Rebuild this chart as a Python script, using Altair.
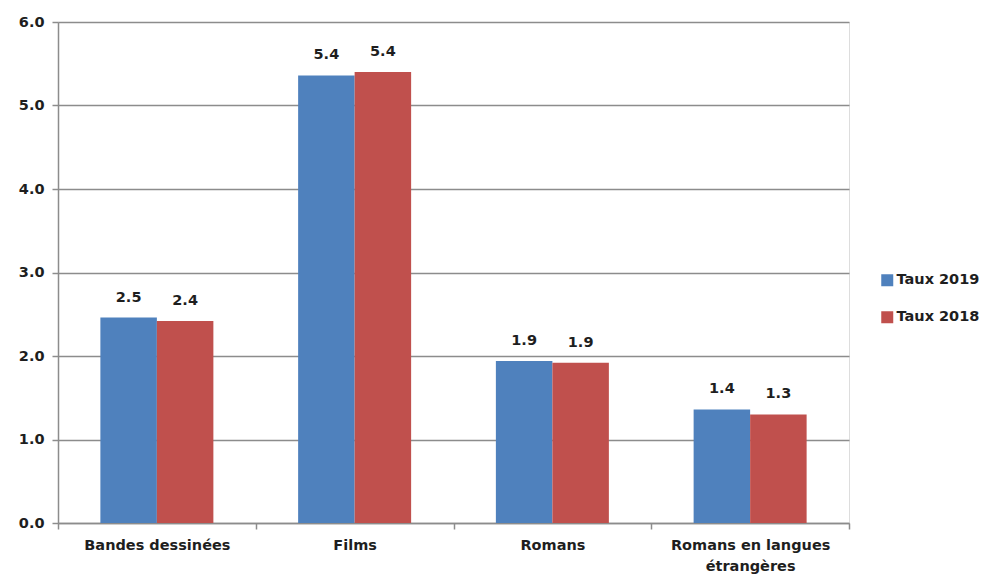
import altair as alt
import pandas as pd

categories = ["Bandes dessinées", "Films", "Romans", "Romans en langues étrangères"]
series = ["Taux 2019", "Taux 2018"]
taux_2019 = [2.46, 5.36, 1.94, 1.36]
taux_2018 = [2.42, 5.40, 1.92, 1.30]
y_ticks = [0, 1, 2, 3, 4, 5, 6]

rows = []
for c, a, b in zip(categories, taux_2019, taux_2018):
    rows.append({"cat": c, "serie": series[0], "val": a})
    rows.append({"cat": c, "serie": series[1], "val": b})
df = pd.DataFrame(rows)

FONT = "DejaVu Sans"
FS = 14.5
TXT = "#1e1e1e"
GRID = "#8c8c8c"

x_enc = alt.X(
    "cat:N", sort=categories, title=None,
    scale=alt.Scale(paddingInner=0, paddingOuter=0),
    axis=alt.Axis(
        labelAngle=0, tickBand="extent", grid=False, domainColor=GRID, domainWidth=1.5,
        tickColor=GRID, tickWidth=1.5, tickSize=6, labelPadding=9,
        labelFont=FONT, labelFontSize=FS, labelFontWeight="bold", labelColor=TXT,
        labelLineHeight=21, labelBaseline="top",
        labelExpr="datum.value == 'Romans en langues étrangères' ? ['Romans en langues', 'étrangères'] : datum.label",
    ),
)
xo_enc = alt.XOffset("serie:N", sort=series, scale=alt.Scale(paddingOuter=0.75, paddingInner=0))
y_enc = alt.Y(
    "val:Q", title=None,
    scale=alt.Scale(domain=[0, 6], nice=False),
    axis=alt.Axis(
        values=y_ticks, format=".1f", grid=True, gridColor=GRID, gridWidth=1.5,
        domainColor=GRID, domainWidth=1.5, tickColor=GRID, tickWidth=1.5, tickSize=6,
        labelPadding=8, labelFont=FONT, labelFontSize=FS, labelFontWeight="bold", labelColor=TXT,
    ),
)
color_enc = alt.Color(
    "serie:N", sort=series, title=None,
    scale=alt.Scale(domain=series, range=["#4F81BD", "#C0504D"]),
    legend=alt.Legend(
        orient="none", legendX=822, legendY=251, symbolType="square", symbolSize=144,
        symbolStrokeWidth=0, labelFont=FONT, labelFontSize=FS, labelFontWeight="bold",
        labelColor=TXT, rowPadding=22, labelOffset=2,
    ),
)

bars = alt.Chart(df).mark_bar().encode(x=x_enc, xOffset=xo_enc, y=y_enc, color=color_enc)
labels = alt.Chart(df).mark_text(
    baseline="alphabetic", dy=-16, font=FONT, fontSize=FS, fontWeight="bold", color=TXT
).encode(x=x_enc, xOffset=xo_enc, y=y_enc, text=alt.Text("val:Q", format=".1f"))

chart = alt.layer(bars, labels).properties(
    width=791, height=501,
    autosize=alt.AutoSizeParams(type="none"),
    padding={"left": 50, "top": 14, "right": 132, "bottom": 54},
).configure_view(stroke="transparent", strokeWidth=0).configure(background="white")

chart.save("out.html", embed_options={"renderer": "svg", "actions": False})
